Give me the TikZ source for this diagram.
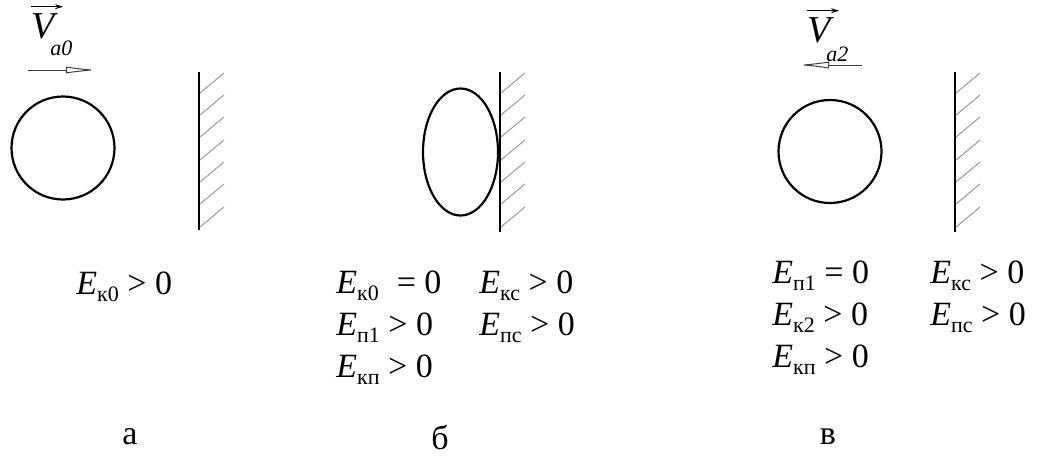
\documentclass[tikz,border=0pt]{standalone}
\usepackage{fontspec}
\setmainfont{Liberation Serif}
\usetikzlibrary{arrows.meta,positioning,shapes.geometric}
\colorlet{hatchgray}{black!40}
\newcommand{\En}[1]{\textit{E}\raisebox{-0.5ex}{\fontsize{11}{11}\selectfont #1}}

\begin{document}
\begin{tikzpicture}[x=0.5pt,y=-0.5pt,>=Latex,
  ball/.style={draw,circle,line width=1.1pt,minimum size=51.5pt,inner sep=0pt},
  wall/.style={line width=1.3pt},
  hatch/.style={hatchgray,line width=0.5pt},
  lbl/.style={font=\fontsize{17}{20}\selectfont,inner sep=0pt,anchor=base west},
  vlbl/.style={font=\fontsize{19}{20}\selectfont\itshape,inner sep=0pt,anchor=base west},
  vsub/.style={font=\fontsize{11}{11}\selectfont\itshape,inner sep=0pt,anchor=base west},
  vecarr/.style={line width=0.5pt,-{Stealth[length=4pt,width=2.5pt]}},
  vel/.style={black!75,line width=0.5pt,-{Latex[open,length=16pt,width=3.5pt]}}]
\useasboundingbox (0,0) rectangle (1042,455);
% a
\node[ball] (ballA) at (63,148) {};
\draw[wall] (199,72) -- (199,230);
\foreach \y in {93,115,137,160,182,204,227} \draw[hatch] (200,\y) -- ++(24,-20);
\node[vlbl] (vA) at (31,38) {V};
\node[vsub] (vAsub) at (50,55) {a0};
\draw[vecarr] ([yshift=3pt]vA.north west) -- ([xshift=4pt,yshift=3pt]vA.north east);
\coordinate (vA0) at (28,70);
\coordinate (vA1) at (98,70);
\draw[vel] (vA0) -- (vA1);
\node[lbl] (eA) at (76,294) {\En{к0} > 0};
\node[lbl,anchor=center] (capA) at (130,437) {а};
% b
\node[draw,ellipse,line width=1.1pt,minimum width=37.5pt,minimum height=63.5pt,inner sep=0pt] (ballB) at (460.5,152) {};
\draw[wall] (500,72) -- (500,232);
\foreach \y in {93,115,137,160,182,204,227} \draw[hatch] (501,\y) -- ++(24,-20);
\node[lbl] (eB1) at (336,293) {\En{к0}\; = 0};
\node[lbl] (eB2) at ([yshift=-21pt]eB1.base west) {\En{п1} > 0};
\node[lbl] (eB3) at ([yshift=-21pt]eB2.base west) {\En{кп} > 0};
\node[lbl] (eB4) at (479,293) {\En{кс} > 0};
\node[lbl] (eB5) at ([yshift=-21pt]eB4.base west) {\En{пс} > 0};
\node[lbl,anchor=center] (capB) at (440,437) {б};
% c
\node[ball] (ballC) at (830,151.5) {};
\draw[wall] (955,72) -- (955,232);
\foreach \y in {93,115,137,160,182,204,227} \draw[hatch] (956,\y) -- ++(24,-20);
\node[vlbl] (vC) at (807,42) {V};
\node[vsub] (vCsub) at (826,61) {a2};
\draw[vecarr] ([yshift=3pt]vC.north west) -- ([xshift=4pt,yshift=3pt]vC.north east);
\coordinate (vC0) at (862,65);
\coordinate (vC1) at (797,65);
\draw[vel] (vC0) -- (vC1);
\node[lbl] (eC1) at (772,283) {\En{п1} = 0};
\node[lbl] (eC2) at ([yshift=-21pt]eC1.base west) {\En{к2} > 0};
\node[lbl] (eC3) at ([yshift=-21pt]eC2.base west) {\En{кп} > 0};
\node[lbl] (eC4) at (930,283) {\En{кс} > 0};
\node[lbl] (eC5) at ([yshift=-21pt]eC4.base west) {\En{пс} > 0};
\node[lbl,anchor=center] (capC) at (828,437) {в};
\end{tikzpicture}
\end{document}
